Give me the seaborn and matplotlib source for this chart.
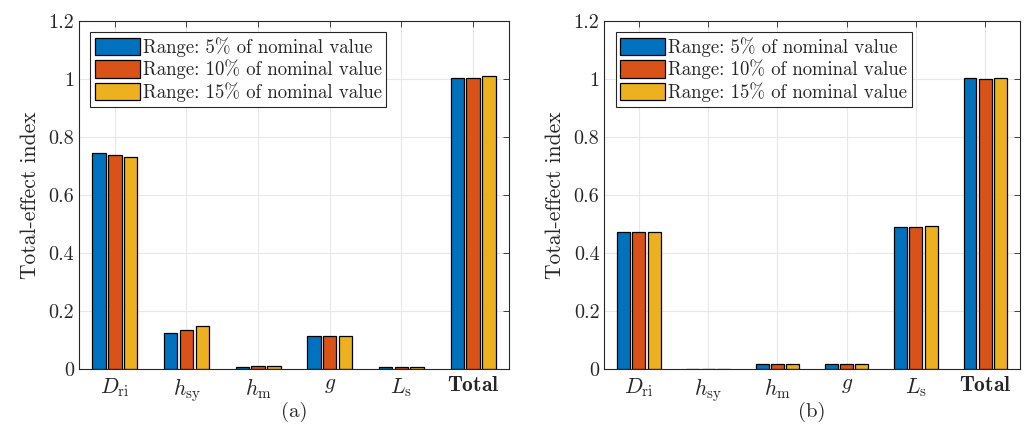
import numpy as np
import pandas as pd
import matplotlib
matplotlib.use("Agg")
import matplotlib.pyplot as plt
import seaborn as sns

categories = [r"$D_{\mathrm{ri}}$", r"$h_{\mathrm{sy}}$", r"$h_{\mathrm{m}}$", r"$g$", r"$L_{\mathrm{s}}$", r"$\mathbf{Total}$"]
series_names = ["Range: 5% of nominal value", "Range: 10% of nominal value", "Range: 15% of nominal value"]

# panel (a)
a_5 = [0.745, 0.125, 0.008, 0.115, 0.005, 1.002]
a_10 = [0.738, 0.133, 0.009, 0.115, 0.007, 1.005]
a_15 = [0.730, 0.148, 0.010, 0.115, 0.007, 1.012]
# panel (b)
b_5 = [0.473, 0.001, 0.016, 0.016, 0.491, 1.002]
b_10 = [0.472, 0.001, 0.016, 0.016, 0.491, 1.001]
b_15 = [0.473, 0.001, 0.016, 0.016, 0.492, 1.003]

yticks = [0, 0.2, 0.4, 0.6, 0.8, 1.0, 1.2]
ytick_labels = ["0", "0.2", "0.4", "0.6", "0.8", "1", "1.2"]
colors = ["#0072BD", "#D95319", "#EDB120"]

sns.set_style("white")
plt.rcParams["font.family"] = ["cmr10", "DejaVu Serif"]
plt.rcParams["mathtext.fontset"] = "cm"
plt.rcParams["axes.unicode_minus"] = False


def make_df(s1, s2, s3):
    rows = []
    for name, vals in zip(series_names, [s1, s2, s3]):
        for c, v in zip(categories, vals):
            rows.append({"param": c, "value": v, "range": name})
    return pd.DataFrame(rows)


fig = plt.figure(figsize=(10.26, 4.29), dpi=100)
ax1 = fig.add_axes([0.077, 0.14, 0.419, 0.811])
ax2 = fig.add_axes([0.589, 0.14, 0.405, 0.811])

for ax, data, lab in [(ax1, (a_5, a_10, a_15), "(a)"), (ax2, (b_5, b_10, b_15), "(b)")]:
    df = make_df(*data)
    sns.barplot(data=df, x="param", y="value", hue="range", order=categories,
                hue_order=series_names, palette=colors, width=0.66, gap=0.15,
                edgecolor="black", linewidth=0.9, saturation=1, ax=ax, errorbar=None)
    ax.set_xlim(-0.5, 5.5)
    ax.set_ylim(0, 1.2)
    ax.set_yticks(yticks)
    ax.set_yticklabels(ytick_labels)
    ax.set_ylabel("Total-effect index", fontsize=15.5, labelpad=6)
    ax.set_xlabel(lab, fontsize=15, labelpad=-1)
    ax.tick_params(axis="y", labelsize=14.5)
    ax.tick_params(axis="x", labelsize=15.5, pad=5)
    ax.tick_params(axis="both", direction="in", top=True, right=True,
                   length=4, width=0.6, color="#262626")
    ax.grid(True, color="#e8e8e8", linewidth=0.8)
    ax.set_axisbelow(True)
    for sp in ax.spines.values():
        sp.set_color("#262626")
        sp.set_linewidth(0.8)
        sp.set_visible(True)
    leg = ax.legend(loc="upper left", fontsize=13.5, frameon=True, fancybox=False,
                    edgecolor="#262626", framealpha=1, handlelength=2.4,
                    handleheight=1.05, handletextpad=0.15, borderpad=0.25,
                    labelspacing=0.15, borderaxespad=0.6)
    leg.get_frame().set_linewidth(0.8)

fig.savefig("out.png", dpi=100)
